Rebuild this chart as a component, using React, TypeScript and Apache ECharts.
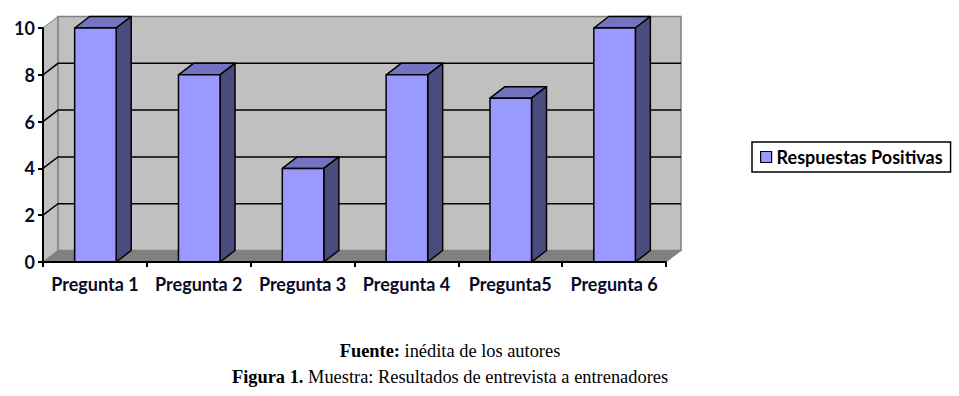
import React, { useEffect, useRef } from "react";
import * as echarts from "echarts";

const categories = ["Pregunta 1", "Pregunta 2", "Pregunta 3", "Pregunta 4", "Pregunta5", "Pregunta 6"];
const values = [10, 8, 4, 8, 7, 10];
const seriesName = "Respuestas Positivas";
const yMin = 0;
const yMax = 10;
const yStep = 2;
const gridValues = [2, 4, 6, 8];
const captionLine1 = "{b|Fuente:} inédita de los autores";
const captionLine2 = "{b|Figura 1.} Muestra: Resultados de entrevista a entrenadores";

const DX = 15;
const DY = -11.5;
const LABEL_FONT = "Lato";
const SERIF = "Liberation Serif";
const CAP_SIZE = 18.4;

export default function App() {
  const ref = useRef<HTMLDivElement>(null);

  useEffect(() => {
    document.body.style.margin = "0";
    const chart = echarts.init(ref.current!, null, { renderer: "svg" });

    const wallsRender = (params: any, api: any) => {
      const cs = params.coordSys;
      const x0 = cs.x;
      const x1 = cs.x + cs.width;
      const yb = api.coord([0, yMin])[1];
      const yt = api.coord([0, yMax])[1];
      const children: any[] = [
        {
          type: "polygon",
          shape: { points: [[x0, yb], [x0, yt], [x0 + DX, yt + DY], [x0 + DX, yb + DY]] },
          style: { fill: "#c0c0c0", stroke: "#808080", lineWidth: 1 },
        },
        {
          type: "polygon",
          shape: { points: [[x0 + DX, yt + DY], [x1 + DX, yt + DY], [x1 + DX, yb + DY], [x0 + DX, yb + DY]] },
          style: { fill: "#c0c0c0", stroke: "#808080", lineWidth: 1.5 },
        },
        {
          type: "polygon",
          shape: { points: [[x0, yb], [x1, yb], [x1 + DX, yb + DY], [x0 + DX, yb + DY]] },
          style: { fill: "#808080", stroke: "#808080", lineWidth: 1 },
        },
      ];
      gridValues.forEach((v) => {
        const y = api.coord([0, v])[1];
        children.push({
          type: "polyline",
          shape: { points: [[x0, y], [x0 + DX, y + DY], [x1 + DX, y + DY]] },
          style: { stroke: "#000", lineWidth: 1.5, fill: null },
        });
      });
      return { type: "group", children };
    };

    const barsRender = (params: any, api: any) => {
      const i = api.value(0);
      const v = api.value(1);
      const [cx, yTop] = api.coord([i, v]);
      const y0 = api.coord([i, yMin])[1];
      const w = api.size([1, 0])[0] * 0.4;
      const xl = cx - w / 2 + 0.5;
      const xr = xl + w;
      const line = { stroke: "#000", lineWidth: 1.5, lineJoin: "round" };
      return {
        type: "group",
        children: [
          {
            type: "polygon",
            shape: { points: [[xl, yTop], [xr, yTop], [xr + DX, yTop + DY], [xl + DX, yTop + DY]] },
            style: { fill: "#7373BF", ...line },
          },
          {
            type: "polygon",
            shape: { points: [[xr, yTop], [xr + DX, yTop + DY], [xr + DX, y0 + DY], [xr, y0]] },
            style: { fill: "#4B4B7E", ...line },
          },
          {
            type: "rect",
            shape: { x: xl, y: yTop, width: w, height: y0 - yTop },
            style: { fill: "#9999FF", ...line },
          },
        ],
      };
    };

    const capStyle = {
      fontFamily: SERIF,
      fontSize: CAP_SIZE,
      fontWeight: "normal",
      color: "#000",
      rich: { b: { fontFamily: SERIF, fontSize: CAP_SIZE, fontWeight: "bold", color: "#000" } },
    };

    chart.setOption({
      animation: false,
      grid: { left: 43, right: 293, top: 28, bottom: 134 },
      title: [
        { text: captionLine1, left: 450, top: 342, textAlign: "center", padding: 0, textStyle: capStyle },
        { text: captionLine2, left: 450, top: 368, textAlign: "center", padding: 0, textStyle: capStyle },
      ],
      legend: {
        left: 752,
        top: 142,
        orient: "vertical",
        padding: [6, 8, 6, 8],
        borderColor: "#000",
        borderWidth: 1.5,
        backgroundColor: "#fff",
        itemWidth: 11,
        itemHeight: 11,
        itemGap: 5,
        textStyle: { fontFamily: LABEL_FONT, fontWeight: "bold", fontSize: 18, color: "#000" },
        data: [
          {
            name: seriesName,
            icon: "rect",
            itemStyle: { color: "#9999FF", borderColor: "#000", borderWidth: 1.2 },
          },
        ],
      },
      xAxis: {
        type: "category",
        data: categories,
        z: 5,
        axisLine: { show: true, lineStyle: { color: "#000", width: 2 } },
        axisTick: { show: true, length: 5, lineStyle: { color: "#000", width: 2 } },
        axisLabel: {
          interval: 0,
          hideOverlap: false,
          margin: 13,
          fontFamily: LABEL_FONT,
          fontWeight: "bold",
          fontSize: 18,
          color: "#0a0a28",
        },
        splitLine: { show: false },
      },
      yAxis: {
        type: "value",
        min: yMin,
        max: yMax,
        interval: yStep,
        z: 5,
        axisLine: { show: true, lineStyle: { color: "#000", width: 2 } },
        axisTick: { show: true, length: 5, lineStyle: { color: "#000", width: 2 } },
        axisLabel: {
          margin: 8,
          fontFamily: LABEL_FONT,
          fontWeight: "bold",
          fontSize: 18,
          color: "#0a0a28",
        },
        splitLine: { show: false },
      },
      series: [
        {
          type: "custom",
          name: "walls",
          z: 1,
          silent: true,
          clip: false,
          renderItem: wallsRender,
          data: [[0, 0]],
          encode: { x: 0, y: 1 },
        },
        {
          type: "custom",
          name: seriesName,
          z: 2,
          clip: false,
          renderItem: barsRender,
          data: values.map((v, i) => [i, v]),
          encode: { x: 0, y: 1 },
          itemStyle: { color: "#9999FF" },
        },
      ],
    });

    return () => chart.dispose();
  }, []);

  return <div ref={ref} style={{ width: 959, height: 396 }} />;
}
